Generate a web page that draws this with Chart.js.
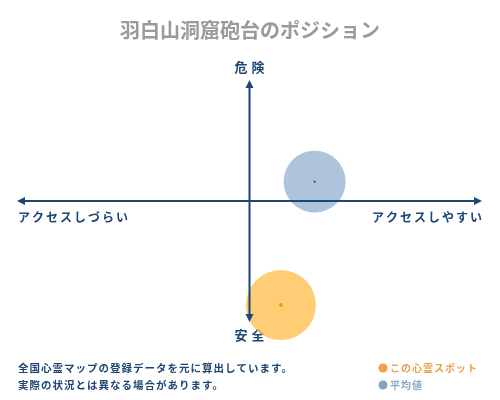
<!DOCTYPE html>
<html>
<head>
<meta charset="utf-8">
<script src="https://cdn.jsdelivr.net/npm/chart.js@4/dist/chart.umd.min.js"></script>
<style>
  html, body { margin: 0; padding: 0; background: #fff; }
  #wrap { position: relative; width: 500px; height: 400px; }
  canvas { position: absolute; left: 0; top: 0; }
</style>
</head>
<body>
<div id="wrap"><canvas id="chart" width="500" height="400"></canvas></div>
<script>
// position data (-10..10 on both axes)
const seriesNames = ['この心霊スポット', '平均値'];
const xValues = [1.35, 2.8];     // access: negative = hard, positive = easy
const yValues = [-8.6, 1.6];     // danger: negative = safe, positive = dangerous
const radii = [35, 31];
const fillColors = ['rgba(255, 193, 80, 0.8)', 'rgba(140, 170, 205, 0.7)'];
const dotColors = ['#f39c12', '#1f3a5c'];

const axisTop = '危険';
const axisBottom = '安全';
const axisLeft = 'アクセスしづらい';
const axisRight = 'アクセスしやすい';
const titleText = '羽白山洞窟砲台のポジション';
const noteLines = ['全国心霊マップの登録データを元に算出しています。', '実際の状況とは異なる場合があります。'];

const navy = '#1d4673';
const font = '"Noto Sans CJK JP", "Noto Sans", sans-serif';

const axesPlugin = {
  id: 'axes',
  beforeDatasetsDraw(chart) {
    // axis captions sit under the bubbles
    const ctx = chart.ctx;
    const a = chart.chartArea;
    const x0 = chart.scales.x.getPixelForValue(0);
    const y0 = chart.scales.y.getPixelForValue(0);
    ctx.save();
    ctx.fillStyle = navy;
    ctx.font = 'bold 13px ' + font;
    ctx.textBaseline = 'middle';
    ctx.letterSpacing = '4px';
    ctx.textAlign = 'center';
    ctx.fillText(axisTop, x0 + 2, a.top - 13);
    ctx.fillText(axisBottom, x0 + 2, a.bottom + 13);
    ctx.font = 'bold 12px ' + font;
    ctx.letterSpacing = '2px';
    ctx.textAlign = 'left';
    ctx.fillText(axisLeft, a.left + 1, y0 + 16);
    ctx.textAlign = 'right';
    ctx.fillText(axisRight, a.right + 2, y0 + 16);
    ctx.restore();
  },
  afterDatasetsDraw(chart) {
    const ctx = chart.ctx;
    const a = chart.chartArea;
    const x0 = chart.scales.x.getPixelForValue(0);
    const y0 = chart.scales.y.getPixelForValue(0);
    ctx.save();
    ctx.strokeStyle = navy;
    ctx.fillStyle = navy;
    ctx.lineWidth = 2;
    ctx.beginPath();
    ctx.moveTo(a.left + 4, y0); ctx.lineTo(a.right - 4, y0);
    ctx.moveTo(x0, a.top + 4); ctx.lineTo(x0, a.bottom - 4);
    ctx.stroke();
    function head(x, y, dx, dy) {
      ctx.beginPath();
      ctx.moveTo(x, y);
      ctx.lineTo(x - dx * 8 - dy * 4, y - dy * 8 - dx * 4);
      ctx.lineTo(x - dx * 8 + dy * 4, y - dy * 8 + dx * 4);
      ctx.closePath();
      ctx.fill();
    }
    head(a.left, y0, -1, 0);
    head(a.right, y0, 1, 0);
    head(x0, a.top, 0, -1);
    head(x0, a.bottom, 0, 1);

    chart.data.datasets.forEach((ds, i) => {
      const p = chart.getDatasetMeta(i).data[0];
      ctx.fillStyle = dotColors[ds.series];
      ctx.beginPath();
      ctx.arc(p.x, p.y, ds.series === 0 ? 2 : 1, 0, Math.PI * 2);
      ctx.fill();
    });

    // title
    ctx.fillStyle = '#9a9a9a';
    ctx.font = 'bold 20px ' + font;
    ctx.textAlign = 'center';
    ctx.textBaseline = 'middle';
    ctx.fillText(titleText, 250, 30);

    // note
    ctx.fillStyle = navy;
    ctx.font = 'bold 10.5px ' + font;
    ctx.textAlign = 'left';
    ctx.letterSpacing = '1px';
    ctx.fillText(noteLines[0], 18, 368);
    ctx.fillText(noteLines[1], 18, 385);

    // legend
    const legendColors = ['#f0a040', '#7fa3c8'];
    const textColors = ['#e8a050', '#8aa8c8'];
    seriesNames.forEach((n, i) => {
      const y = 368 + i * 17;
      ctx.fillStyle = legendColors[i];
      ctx.beginPath();
      ctx.arc(383, y, 4.5, 0, Math.PI * 2);
      ctx.fill();
      ctx.fillStyle = textColors[i];
      ctx.font = 'bold 10px ' + font;
      ctx.letterSpacing = '1px';
      ctx.fillText(n, 390, y);
    });
    ctx.restore();
  }
};

const datasets = seriesNames.map((n, i) => ({
  label: n,
  series: i,
  data: [{ x: xValues[i], y: yValues[i], r: radii[i] }],
  backgroundColor: fillColors[i],
  borderWidth: 0,
  hoverRadius: 0,
  clip: false
}));
// draw the average behind the spot
datasets.reverse();

new Chart(document.getElementById('chart'), {
  type: 'bubble',
  data: { datasets: datasets },
  options: {
    responsive: false,
    animation: false,
    layout: { autoPadding: false, padding: { left: 17, right: 18, top: 80, bottom: 78 } },
    scales: {
      x: { display: false, min: -10, max: 10 },
      y: { display: false, min: -10, max: 10 }
    },
    plugins: {
      legend: { display: false },
      tooltip: { enabled: false }
    }
  },
  plugins: [axesPlugin]
});
</script>
</body>
</html>
